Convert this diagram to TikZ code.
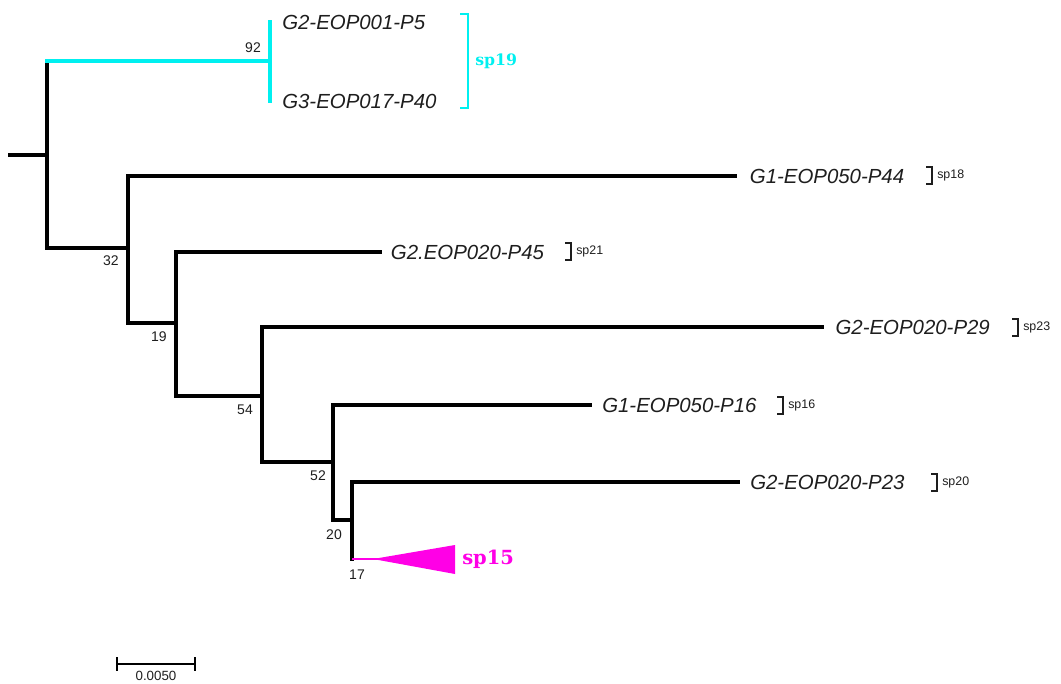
\documentclass[tikz,border=0pt]{standalone}
\usepackage{fontspec}
\setmainfont{Liberation Sans}
\newfontfamily\spfont{DejaVu Serif}
\definecolor{cladecyan}{RGB}{0,240,240}
\definecolor{clademag}{RGB}{255,0,230}
\definecolor{labelgray}{RGB}{30,30,30}
\begin{document}
\begin{tikzpicture}[x=0.75pt,y=-0.75pt,
  branch/.style={line width=2.3pt,line cap=rect,line join=miter},
  taxon/.style={font=\fontsize{15.3}{16}\selectfont\itshape,text=labelgray,inner sep=0pt,anchor=west},
  boot/.style={font=\fontsize{10.5}{11}\selectfont,text=labelgray,inner sep=0pt},
  splabel/.style={font=\fontsize{9.3}{10}\selectfont,text=labelgray,inner sep=0pt,anchor=west},
  bracket/.style={line width=0.9pt,labelgray}]
\useasboundingbox (0,0) rectangle (1061,683);

% internal nodes and tips
\coordinate (root) at (47,155);
\coordinate (stub) at (10,155);
\coordinate (n92) at (270,61);
\coordinate (t5) at (270,22);
\coordinate (t40) at (270,101);
\coordinate (n32) at (128,248);
\coordinate (t44) at (735,176);
\coordinate (n19) at (176,323);
\coordinate (t45) at (380,252);
\coordinate (n54) at (262,396);
\coordinate (t29) at (822,327);
\coordinate (n52) at (333,462);
\coordinate (t16) at (590,405);
\coordinate (n20) at (352,520);
\coordinate (t23) at (738,482);
\coordinate (n17) at (352,559);
\coordinate (apex) at (373,559);

% black backbone
\draw[branch] (stub) -- (root);
\draw[branch] (root) -- (root |- n92);
\draw[branch] (root) |- (n32);
\draw[branch] (n32) |- (t44);
\draw[branch] (n32) |- (n19);
\draw[branch] (n19) |- (t45);
\draw[branch] (n19) |- (n54);
\draw[branch] (n54) |- (t29);
\draw[branch] (n54) |- (n52);
\draw[branch] (n52) |- (t16);
\draw[branch] (n52) |- (n20);
\draw[branch] (n20) |- (t23);
\draw[branch] (n20) |- (n17);

% cyan clade sp19
\draw[branch,cladecyan] (root |- n92) -- (n92);
\draw[branch,cladecyan] (t5) -- (t40);
\draw[cladecyan,line width=1.6pt] (460,14) -- (468,14) -- (468,108) -- (460,108);
\node[font=\spfont\bfseries\fontsize{11.8}{12}\selectfont,text=cladecyan,inner sep=0pt,anchor=west] (sp19) at (475,61) {sp19};

% collapsed clade sp15
\draw[clademag,line width=1.6pt] (n17) -- ([xshift=20]apex);
\fill[clademag] (apex) -- (455,545) -- (455,574) -- cycle;
\node[font=\spfont\bfseries\fontsize{14.6}{15}\selectfont,text=clademag,inner sep=0pt,anchor=west] (sp15) at (462,559) {sp15};

% taxon labels
\node[taxon] (l5) at ([xshift=9]t5) {G2-EOP001-P5};
\node[taxon] (l40) at ([xshift=9]t40) {G3-EOP017-P40};
\node[taxon] (l44) at ([xshift=11]t44) {G1-EOP050-P44};
\node[taxon] (l45) at ([xshift=8]t45) {G2.EOP020-P45};
\node[taxon] (l29) at ([xshift=10]t29) {G2-EOP020-P29};
\node[taxon] (l16) at ([xshift=9]t16) {G1-EOP050-P16};
\node[taxon] (l23) at ([xshift=9]t23) {G2-EOP020-P23};

% species brackets
\draw[bracket] (926,167) -- (932,167) -- (932,184) -- (926,184);
\node[splabel] (s18) at (937,175) {sp18};
\draw[bracket] (565,243) -- (571,243) -- (571,260) -- (565,260);
\node[splabel] (s21) at (576,251) {sp21};
\draw[bracket] (1012,319) -- (1018,319) -- (1018,336) -- (1012,336);
\node[splabel] (s23) at (1023,327) {sp23};
\draw[bracket] (777,397) -- (783,397) -- (783,414) -- (777,414);
\node[splabel] (s16) at (788,405) {sp16};
\draw[bracket] (931,474) -- (937,474) -- (937,491) -- (931,491);
\node[splabel] (s20) at (942,482) {sp20};

% bootstrap values
\node[boot] (b92) at (253,48) {92};
\node[boot] (b32) at (111,261) {32};
\node[boot] (b19) at (159,337) {19};
\node[boot] (b54) at (245,410) {54};
\node[boot] (b52) at (318,476) {52};
\node[boot] (b20) at (334,535) {20};
\node[boot] (b17) at (357,575) {17};

% scale bar
\coordinate (sbl) at (117,664);
\coordinate (sbr) at (195,664);
\draw[line width=1.6pt] (sbl) -- (sbr);
\draw[line width=1.6pt] ([yshift=-5]sbl) -- ([yshift=5]sbl);
\draw[line width=1.6pt] ([yshift=-5]sbr) -- ([yshift=5]sbr);
\node[boot,font=\fontsize{10}{11}\selectfont] (sblab) at (156,675.5) {0.0050};
\end{tikzpicture}
\end{document}
